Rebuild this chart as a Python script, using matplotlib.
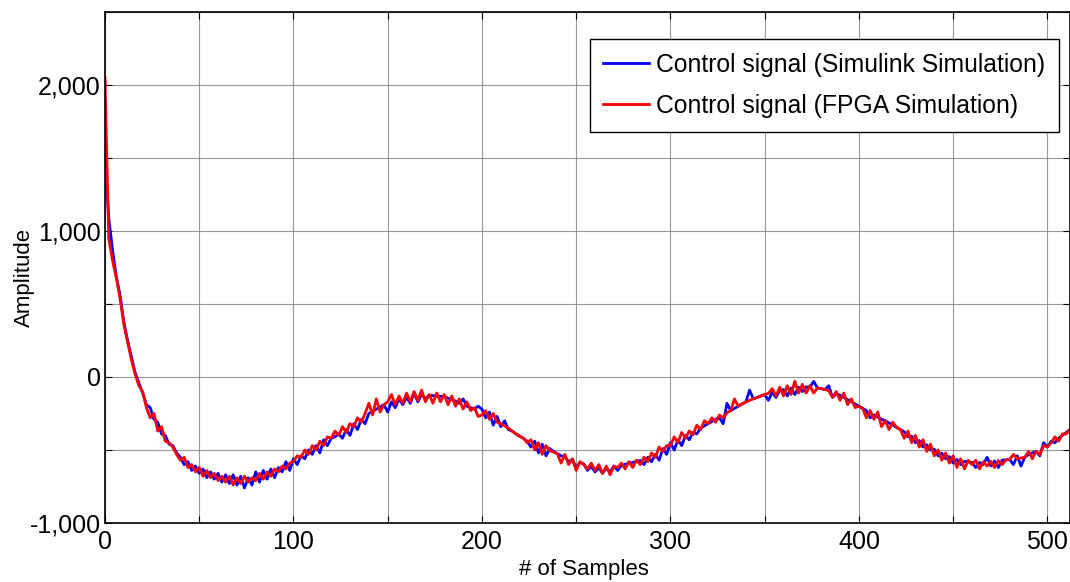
import numpy as np
import matplotlib
matplotlib.use("Agg")
import matplotlib.pyplot as plt
from matplotlib.ticker import MultipleLocator, FuncFormatter

plt.rcParams['font.family'] = ['Liberation Sans', 'DejaVu Sans']

# sample index (every 2nd sample)
samples = np.arange(0, 513, 2)

simulink = [
    1520, 1090, 870, 690, 560, 380, 250, 140, 30, -40,
    -110, -190, -210, -290, -310, -390, -400, -460, -470, -520,
    -550, -600, -580, -640, -610, -660, -630, -690, -650, -700,
    -660, -720, -670, -730, -670, -740, -680, -760, -690, -740,
    -650, -720, -640, -700, -630, -690, -620, -650, -580, -640,
    -560, -600, -540, -560, -500, -530, -470, -520, -430, -470,
    -420, -410, -390, -420, -360, -400, -320, -360, -290, -320,
    -250, -235, -220, -205, -190, -240, -170, -210, -150, -190,
    -140, -180, -110, -170, -120, -150, -125, -128, -130, -132,
    -135, -145, -155, -165, -180, -150, -200, -210, -220, -200,
    -220, -280, -240, -330, -270, -340, -300, -360, -370, -390,
    -405, -420, -440, -480, -440, -520, -460, -540, -490, -510,
    -525, -540, -545, -580, -565, -620, -585, -595, -640, -612,
    -650, -622, -660, -625, -650, -610, -640, -605, -598, -590,
    -585, -578, -572, -600, -550, -580, -530, -570, -490, -530,
    -450, -500, -430, -470, -400, -430, -380, -390, -350, -335,
    -320, -305, -290, -280, -320, -180, -230, -215, -200, -185,
    -172, -90, -150, -140, -130, -120, -160, -105, -140, -92,
    -86, -130, -76, -120, -70, -100, -68, -70, -30, -75,
    -80, -86, -60, -140, -115, -125, -140, -155, -170, -185,
    -200, -215, -230, -280, -260, -275, -290, -300, -315, -330,
    -345, -360, -375, -410, -405, -450, -435, -480, -465, -500,
    -495, -540, -522, -560, -545, -590, -565, -600, -578, -582,
    -585, -620, -585, -600, -550, -610, -575, -620, -570, -568,
    -565, -600, -540, -610, -550, -530, -520, -510, -540, -450,
    -480, -440, -450, -420, -400, -380, -360,
]

fpga = [
    2050, 950, 800, 680, 540, 360, 240, 120, 20, -60,
    -100, -210, -280, -250, -370, -340, -440, -450, -480, -530,
    -570, -550, -620, -600, -650, -620, -680, -640, -690, -660,
    -710, -680, -720, -680, -740, -690, -730, -680, -720, -690,
    -710, -660, -700, -650, -680, -630, -650, -610, -630, -590,
    -580, -540, -550, -500, -530, -470, -500, -440, -470, -410,
    -420, -370, -400, -340, -380, -320, -340, -280, -310, -250,
    -180, -260, -150, -240, -190, -170, -120, -190, -130, -180,
    -110, -170, -100, -160, -90, -170, -120, -180, -110, -170,
    -120, -190, -130, -200, -150, -220, -170, -230, -210, -270,
    -260, -230, -290, -250, -310, -320, -335, -350, -370, -390,
    -405, -420, -450, -430, -500, -450, -530, -470, -505, -515,
    -525, -590, -530, -600, -560, -640, -580, -600, -630, -590,
    -640, -600, -660, -610, -670, -610, -620, -590, -630, -580,
    -620, -570, -600, -550, -580, -520, -550, -480, -510, -470,
    -470, -410, -450, -380, -420, -370, -395, -330, -360, -300,
    -320, -280, -310, -260, -280, -245, -230, -150, -200, -185,
    -172, -160, -150, -140, -130, -120, -112, -80, -130, -70,
    -130, -60, -120, -30, -110, -50, -110, -60, -110, -75,
    -80, -86, -95, -140, -100, -160, -110, -190, -150, -210,
    -200, -215, -280, -230, -290, -240, -340, -300, -360, -310,
    -345, -360, -420, -370, -450, -400, -480, -430, -510, -460,
    -540, -500, -570, -520, -590, -540, -620, -560, -630, -570,
    -600, -570, -630, -580, -610, -578, -620, -572, -600, -568,
    -565, -530, -560, -555, -550, -510, -560, -510, -530, -470,
    -480, -450, -410, -440, -390, -390, -360,
]

fig = plt.figure(figsize=(10.7, 5.82), dpi=100)
ax = fig.add_axes([0.0981, 0.1014, 0.9019, 0.878])

ax.plot(samples, simulink, color='#0000ff', lw=2.0, label='Control signal (Simulink Simulation)')
ax.plot(samples, fpga, color='#ff0000', lw=2.0, label='Control signal (FPGA Simulation)')

ax.set_xlim(0, 512)
ax.set_ylim(-1000, 2500)
ax.xaxis.set_major_locator(MultipleLocator(100))
ax.xaxis.set_minor_locator(MultipleLocator(50))
ax.yaxis.set_major_locator(MultipleLocator(1000))
ax.yaxis.set_minor_locator(MultipleLocator(500))
ax.yaxis.set_major_formatter(FuncFormatter(lambda v, p: f"{v:,.0f}"))

ax.tick_params(which='both', direction='in', top=True, right=True, length=5, width=0.8)
ax.tick_params(which='major', labelsize=18)
ax.tick_params(axis='x', which='major', pad=5)
ax.tick_params(axis='y', which='major', pad=3)
ax.grid(which='both', color='#7f7f7f', lw=0.8, alpha=0.8)
for s in ax.spines.values():
    s.set_linewidth(1.2)

ax.set_xlabel('# of Samples', fontsize=16)
ax.set_ylabel('Amplitude', fontsize=16)
ax.xaxis.set_label_coords(0.496, -0.07)
ax.yaxis.set_label_coords(-0.0725, 0.481)

leg = ax.legend(loc='upper right', bbox_to_anchor=(0.9886, 0.947), borderaxespad=0,
                fontsize=17.8, fancybox=False, framealpha=1, edgecolor='black',
                handlelength=1.85, handletextpad=0.3, borderpad=0.55, labelspacing=0.7)
leg.get_frame().set_linewidth(1.0)

fig.savefig('out.png', dpi=100)
